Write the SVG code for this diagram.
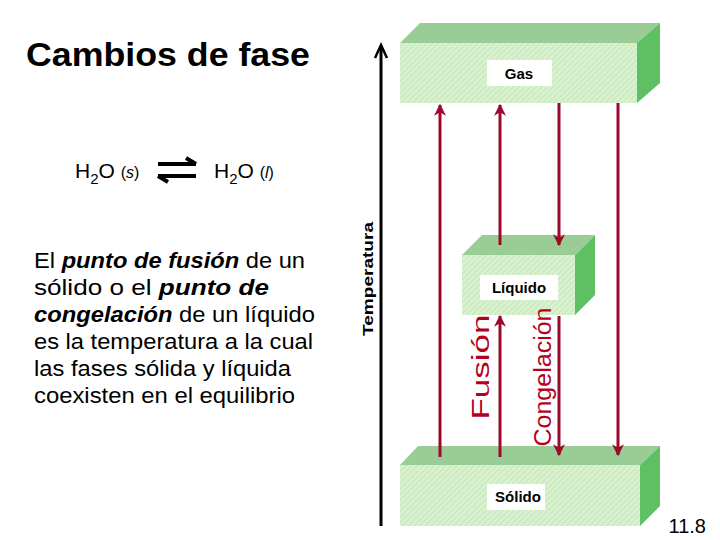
<svg xmlns="http://www.w3.org/2000/svg" width="720" height="540" viewBox="0 0 720 540">
<defs>
<pattern id="hatch" width="4" height="4" patternUnits="userSpaceOnUse" patternTransform="rotate(45)">
<rect width="4" height="4" fill="#d8f2cf"/><line x1="0" y1="0" x2="0" y2="4" stroke="#bfe3b4" stroke-width="1.5"/>
</pattern>
<marker id="ah" viewBox="0 0 10 10" refX="9" refY="5" markerWidth="4" markerHeight="4" orient="auto"><path d="M0,0 L10,5 L0,10 L3,5 Z" fill="#9b0a2a"/></marker>
</defs>
<style>
.front{fill:url(#hatch)} .top{fill:#9acd96} .side{fill:#5fbf63}
.lbl{fill:#fff} .lt{font-family:"Liberation Sans",Arial,sans-serif;font-size:15px;font-weight:bold;text-anchor:middle}
.red{stroke:#9b0a2a;stroke-width:3;fill:none;marker-end:url(#ah)}
.body{font-family:"Liberation Sans",Arial,sans-serif;font-size:21px;fill:#000}
.desc{font-family:"Liberation Sans",Arial,sans-serif;font-size:22px;fill:#000}
</style>
<rect width="720" height="540" fill="#fff"/>
<text x="26" y="66" font-family="Liberation Sans,Arial,sans-serif" font-size="33" font-weight="bold" textLength="284" lengthAdjust="spacingAndGlyphs">Cambios de fase</text>
<g id="equation" class="body">
<text x="75" y="178">H<tspan font-size="15" dy="6">2</tspan><tspan dy="-6">O </tspan><tspan font-size="16">(<tspan font-style="italic">s</tspan>)</tspan></text>
<text x="214" y="178">H<tspan font-size="15" dy="6">2</tspan><tspan dy="-6">O </tspan><tspan font-size="16">(<tspan font-style="italic">l</tspan>)</tspan></text>
<path d="M158,164 H196 M196,164 L186,158" stroke="#000" stroke-width="4" fill="none"/>
<path d="M196,176 H158 M158,176 L168,182" stroke="#000" stroke-width="4" fill="none"/>
</g>
<g id="description" class="desc">
<text x="34" y="268" textLength="271" lengthAdjust="spacingAndGlyphs">El <tspan font-weight="bold" font-style="italic">punto de fusión</tspan> de un</text>
<text x="34" y="295" textLength="235" lengthAdjust="spacingAndGlyphs">sólido o el <tspan font-weight="bold" font-style="italic">punto de</tspan></text>
<text x="34" y="322" textLength="281" lengthAdjust="spacingAndGlyphs"><tspan font-weight="bold" font-style="italic">congelación</tspan> de un líquido</text>
<text x="34" y="349" textLength="279" lengthAdjust="spacingAndGlyphs">es la temperatura a la cual</text>
<text x="34" y="376" textLength="257" lengthAdjust="spacingAndGlyphs">las fases sólida y líquida</text>
<text x="34" y="403" textLength="261" lengthAdjust="spacingAndGlyphs">coexisten en el equilibrio</text>
</g>
<g id="axis">
<line x1="381" y1="526" x2="381" y2="46" stroke="#000" stroke-width="3"/>
<path d="M375,58 L381,45 L387,58" stroke="#000" stroke-width="2.5" fill="none"/>
<text transform="translate(373,279) rotate(-90)" font-family="Liberation Sans,Arial,sans-serif" font-size="14" font-weight="bold" text-anchor="middle" textLength="114" lengthAdjust="spacingAndGlyphs">Temperatura</text>
</g>
<g id="gas">
<polygon class="top" points="400,43 420,23 660,23 637,43"/>
<polygon class="side" points="637,43 660,23 660,83 637,103"/>
<rect class="front" x="400" y="43" width="237" height="60"/>
<rect class="lbl" x="487" y="60" width="65" height="26"/>
<text class="lt" x="519" y="79">Gas</text>
</g>
<g id="liquido">
<polygon class="top" points="462,255 482,235 595,235 575,255"/>
<polygon class="side" points="575,255 595,235 595,295 575,315"/>
<rect class="front" x="462" y="255" width="113" height="60"/>
<rect class="lbl" x="480" y="275" width="78" height="25"/>
<text class="lt" x="519" y="293">Líquido</text>
</g>
<g id="solido">
<polygon class="top" points="400,465 418,446 660,446 640,465"/>
<polygon class="side" points="640,465 660,446 660,506 640,526"/>
<rect class="front" x="400" y="465" width="240" height="61"/>
<rect class="lbl" x="487" y="484" width="58" height="26"/>
<text class="lt" x="518" y="502">Sólido</text>
</g>
<g id="connectors">
<line class="red" x1="440" y1="457" x2="440" y2="105"/>
<line class="red" x1="500" y1="245" x2="500" y2="105"/>
<line class="red" x1="559" y1="103" x2="559" y2="245"/>
<line class="red" x1="618" y1="103" x2="618" y2="455"/>
<line class="red" x1="500" y1="457" x2="500" y2="316"/>
<line class="red" x1="559" y1="316" x2="559" y2="455"/>
<text transform="translate(489,367) rotate(-90)" font-family="Liberation Sans,Arial,sans-serif" font-size="23" fill="#b5001e" text-anchor="middle" textLength="105" lengthAdjust="spacingAndGlyphs">Fusión</text>
<text transform="translate(551,377) rotate(-90)" font-family="Liberation Sans,Arial,sans-serif" font-size="23" fill="#b5001e" text-anchor="middle" textLength="139" lengthAdjust="spacingAndGlyphs">Congelación</text>
</g>
<text x="706" y="533" font-family="Liberation Sans,Arial,sans-serif" font-size="20" text-anchor="end">11.8</text>
</svg>
